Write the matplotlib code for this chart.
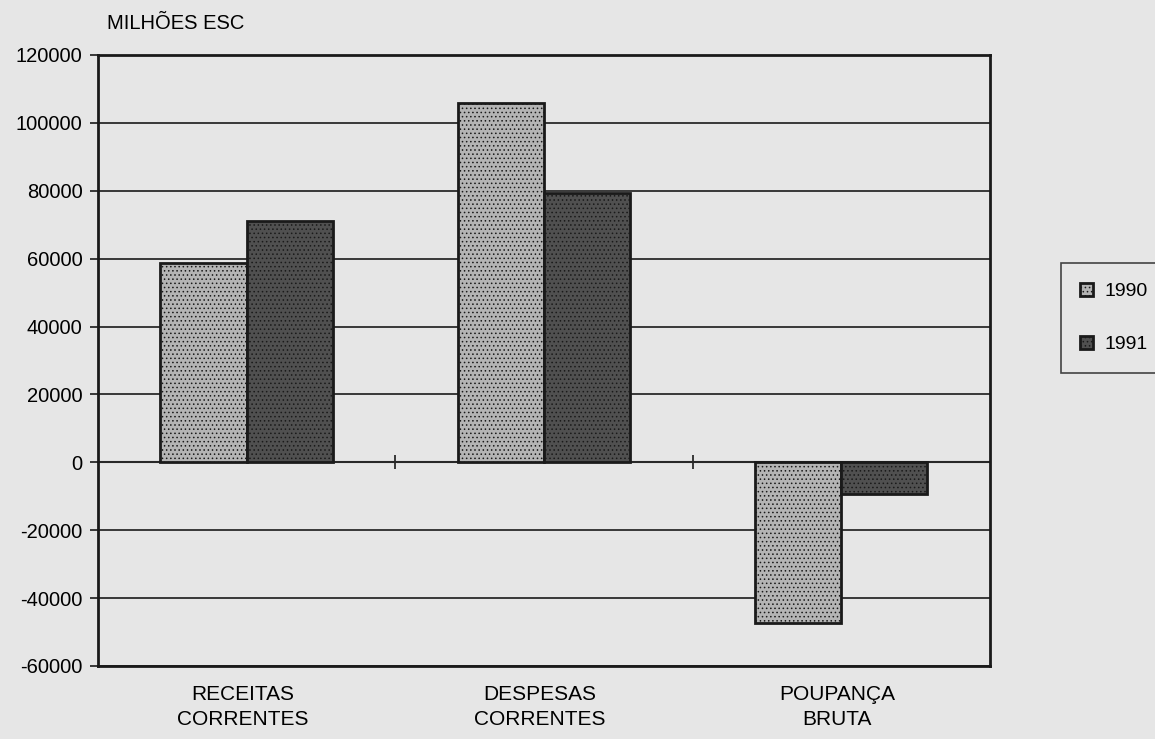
import numpy as np
import matplotlib.pyplot as plt
import matplotlib.transforms as mtransforms

plt.rcParams['font.family'] = ['Liberation Sans', 'DejaVu Sans']
plt.rcParams['axes.unicode_minus'] = False

# dados (milhões de escudos)
categorias = ["RECEITAS\nCORRENTES", "DESPESAS\nCORRENTES", "POUPANÇA\nBRUTA"]
anos = ["1990", "1991"]
valores_1990 = [58600, 105800, -47200]
valores_1991 = [71000, 79300, -9200]

fundo = "#e6e6e6"
fig = plt.figure(figsize=(11.55, 7.39), dpi=100, facecolor=fundo)
ax = fig.add_axes([0.0848, 0.0988, 0.7722, 0.8268])
ax.set_facecolor(fundo)

x = np.arange(len(categorias))
w = 0.29
plt.rcParams['hatch.linewidth'] = 0.6
plt.rcParams['hatch.color'] = '#303030'
b1 = ax.bar(x - w / 2, valores_1990, w, color="#b4b4b4", edgecolor="#1a1a1a",
            linewidth=2, hatch="....", label=anos[0], zorder=3)
b2 = ax.bar(x + w / 2, valores_1991, w, color="#505050", edgecolor="#1a1a1a",
            linewidth=2, hatch="....", label=anos[1], zorder=3)

ax.set_xlim(-0.5, len(categorias) - 0.5)
ax.set_ylim(-60000, 120000)
ax.set_yticks(np.arange(-60000, 120001, 20000))
ax.yaxis.grid(True, color="#2a2a2a", linewidth=1.3)
ax.set_axisbelow(True)
ax.tick_params(axis="y", labelsize=14.5, length=6, width=1.2, color="#1a1a1a", pad=5)

ax.set_xticks(x)
ax.set_xticklabels(categorias, fontsize=15, linespacing=1.4)
ax.tick_params(axis="x", length=0, pad=14)
desloc = mtransforms.ScaledTranslation(-0.04, 0, fig.dpi_scale_trans)
for lbl in ax.get_xticklabels():
    lbl.set_transform(lbl.get_transform() + desloc)

for s in ax.spines.values():
    s.set_linewidth(2)
    s.set_color("#1a1a1a")

# eixo das categorias no zero, com marcas entre grupos
y0, y1 = ax.get_ylim()
sec = ax.secondary_xaxis((0 - y0) / (y1 - y0))
sec.set_xticks(np.arange(0.5, len(categorias) - 1, 1.0))
sec.set_xticklabels([])
sec.tick_params(direction="inout", length=10, width=1.2, color="#1a1a1a")
sec.spines["bottom"].set_linewidth(1.5)
sec.spines["bottom"].set_color("#1a1a1a")

fig.text(0.093, 0.968, "MILHÕES ESC", fontsize=14.5, ha="left", va="center")

leg = ax.legend(loc="center left", bbox_to_anchor=(1061 / 1155, (739 - 318) / 739),
                bbox_transform=fig.transFigure, fontsize=14, frameon=True,
                fancybox=False, edgecolor="#1a1a1a", facecolor=fundo,
                handlelength=0.65, handleheight=0.65, handletextpad=0.6,
                labelspacing=1.85, borderpad=1.0, borderaxespad=0)
leg.get_frame().set_linewidth(1.2)
leg._legend_box.align = "left"

fig.savefig("out.png", dpi=100, facecolor=fundo)
